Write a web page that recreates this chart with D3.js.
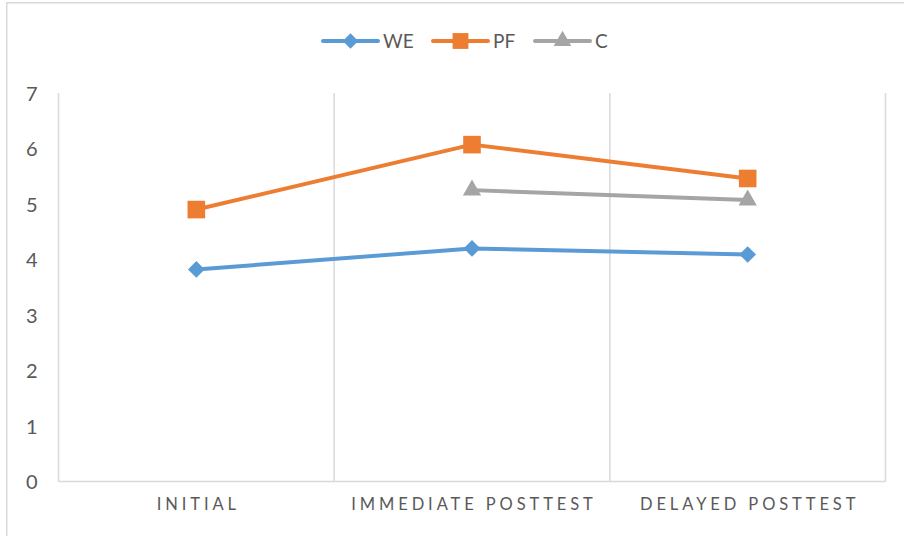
<!DOCTYPE html>
<html>
<head>
<meta charset="utf-8">
<script src="https://cdn.jsdelivr.net/npm/d3@7"></script>
<style>
  html, body { margin: 0; padding: 0; background: #fff; }
  svg { display: block; }
  text { font-family: Lato, "Open Sans", "Liberation Sans", sans-serif; fill: #595959; }
</style>
</head>
<body>
<svg id="chart" width="904" height="536"></svg>
<script>
// Test stages along the x axis
const categories = ["INITIAL", "IMMEDIATE POSTTEST", "DELAYED POSTTEST"];
// Mean scores per group (null where a group was not tested)
const weValues = [3.82, 4.20, 4.09];
const pfValues = [4.90, 6.07, 5.46];
const cValues  = [null, 5.25, 5.07];
const yTicks = [0, 1, 2, 3, 4, 5, 6, 7];

const seriesNames  = ["WE", "PF", "C"];
const seriesColors = ["#5B9BD5", "#ED7D31", "#A5A5A5"];

// Marker shapes: diamond is a square turned 45 degrees
const markerSpec = [
  { type: d3.symbolSquare,   rotate: 45, plotSize: 140, legendSize: 120 },
  { type: d3.symbolSquare,   rotate: 0,  plotSize: 310, legendSize: 250 },
  { type: d3.symbolTriangle, rotate: 0,  plotSize: 145, legendSize: 135 }
];

const series = seriesNames.map((name, i) => ({
  name,
  color: seriesColors[i],
  marker: markerSpec[i],
  values: [weValues, pfValues, cValues][i]
}));

const svg = d3.select("#chart");
const W = 904, H = 536;
const plot = { left: 58.5, right: 885.5, top: 93, bottom: 481.5 };

// Outer chart frame
svg.append("rect")
  .attr("x", 6.75).attr("y", 2.75)
  .attr("width", W + 10).attr("height", H + 10)
  .attr("fill", "none").attr("stroke", "#d9d9d9").attr("stroke-width", 1.5);

const x = d3.scaleBand().domain(categories).range([plot.left, plot.right]).padding(0);
const y = d3.scaleLinear().domain([0, 7]).range([plot.bottom, plot.top]);

// Vertical category separators
const sepX = [plot.left, ...categories.map(c => x(c) + x.bandwidth())];
svg.append("g").selectAll("line").data(sepX).join("line")
  .attr("x1", d => d).attr("x2", d => d)
  .attr("y1", plot.top).attr("y2", plot.bottom)
  .attr("stroke", "#d9d9d9").attr("stroke-width", 1.5);

// Horizontal axis line
svg.append("line")
  .attr("x1", plot.left).attr("x2", plot.right)
  .attr("y1", plot.bottom).attr("y2", plot.bottom)
  .attr("stroke", "#d9d9d9").attr("stroke-width", 1.5);

// Y axis labels
const yAxis = d3.axisLeft(y).tickValues(yTicks).tickFormat(d3.format("d")).tickSize(0).tickPadding(0);
const gy = svg.append("g").attr("transform", `translate(${plot.left - 21},0)`).call(yAxis);
gy.select(".domain").remove();
gy.selectAll("text")
  .attr("font-size", 20).attr("fill", "#595959")
  .style("font-family", "Lato, 'Open Sans', sans-serif")
  .attr("dy", "0.35em");

// X axis labels (letter-spaced caps)
const xAxis = d3.axisBottom(x).tickSize(0).tickPadding(0);
const gx = svg.append("g").attr("transform", `translate(0,${plot.bottom})`).call(xAxis);
gx.select(".domain").remove();
gx.selectAll("text")
  .attr("y", 27).attr("dy", 0)
  .attr("transform", "translate(2,1)")
  .attr("font-size", 16.5).attr("fill", "#595959")
  .attr("letter-spacing", "3.9px")
  .style("font-family", "Lato, 'Open Sans', sans-serif");

const cx = c => x(c) + x.bandwidth() / 2;

const markerPath = (m, size) => d3.symbol().type(m.type).size(size)();

// Series lines and markers
series.forEach(s => {
  const pts = categories.map((c, i) => ({ c, v: s.values[i] })).filter(p => p.v != null);
  const line = d3.line().x(p => cx(p.c)).y(p => y(p.v));
  svg.append("path").datum(pts)
    .attr("d", line)
    .attr("fill", "none").attr("stroke", s.color)
    .attr("stroke-width", 4).attr("stroke-linejoin", "round").attr("stroke-linecap", "round");
  svg.append("g").selectAll("path").data(pts).join("path")
    .attr("transform", p => `translate(${cx(p.c)},${y(p.v)}) rotate(${s.marker.rotate})`)
    .attr("d", markerPath(s.marker, s.marker.plotSize))
    .attr("fill", s.color);
});

// Legend
const legendX = [323, 433, 535];
const legend = svg.append("g");
series.forEach((s, i) => {
  const g = legend.append("g").attr("transform", `translate(${legendX[i]},41)`);
  g.append("line").attr("x1", 0).attr("x2", 55).attr("y1", 0).attr("y2", 0)
    .attr("stroke", s.color).attr("stroke-width", 4).attr("stroke-linecap", "round");
  g.append("path").attr("transform", `translate(27.5,0) rotate(${s.marker.rotate})`)
    .attr("d", markerPath(s.marker, s.marker.legendSize)).attr("fill", s.color);
  g.append("text").attr("x", 60).attr("y", 0).attr("dy", "0.36em")
    .attr("font-size", 19).text(s.name);
});
</script>
</body>
</html>
